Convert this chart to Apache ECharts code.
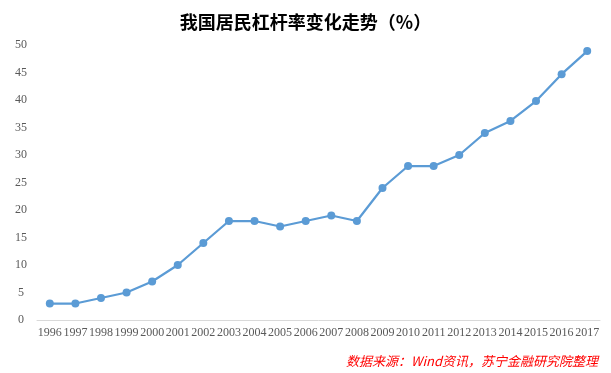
<!DOCTYPE html>
<html><head><meta charset="utf-8">
<script src="https://cdn.jsdelivr.net/npm/echarts@6/dist/echarts.min.js"></script>
<style>html,body{margin:0;padding:0;background:#fff}#c{width:611px;height:373px}</style>
</head><body><div id="c"></div>
<script>
const years = ['1996','1997','1998','1999','2000','2001','2002','2003','2004','2005','2006','2007','2008','2009','2010','2011','2012','2013','2014','2015','2016','2017'];
const leverage = [3,3,4,5,7,10,14,18,18,17,18,19,18,24,28,28,30,34,36.2,39.8,44.7,48.9];
const titleText = '我国居民杠杆率变化走势（%）';
const sourceText = '数据来源：Wind资讯，苏宁金融研究院整理';

const chart = echarts.init(document.getElementById('c'));
chart.setOption({
  animation: false,
  backgroundColor: '#fff',
  title: {
    text: titleText, left: 'center', top: 8,
    textStyle: {fontFamily: 'Noto Sans CJK SC', fontWeight: 'bold', fontSize: 18, color: '#000'}
  },
  grid: {left: 37, right: 11, top: 45, bottom: 53},
  xAxis: {
    type: 'category', data: years, boundaryGap: true,
    axisLine: {lineStyle: {color: '#D9D9D9', width: 1}},
    axisTick: {show: false},
    axisLabel: {interval: 0, color: '#595959', fontFamily: 'Liberation Serif', fontSize: 12, margin: 7}
  },
  yAxis: {
    type: 'value', min: 0, max: 50, interval: 5,
    axisLine: {show: false}, axisTick: {show: false}, splitLine: {show: false},
    axisLabel: {color: '#595959', fontFamily: 'Liberation Serif', fontSize: 12, margin: 16, align: 'center'}
  },
  series: [{
    type: 'line', data: leverage,
    lineStyle: {color: '#5B9BD5', width: 2.25},
    itemStyle: {color: '#5B9BD5'},
    symbol: 'circle', symbolSize: 8
  }],
  graphic: [{
    type: 'text', right: 13, top: 355,
    style: {text: sourceText, fill: '#FF0000', font: 'italic 13px "Noto Sans CJK SC"'}
  }]
});
</script></body></html>
